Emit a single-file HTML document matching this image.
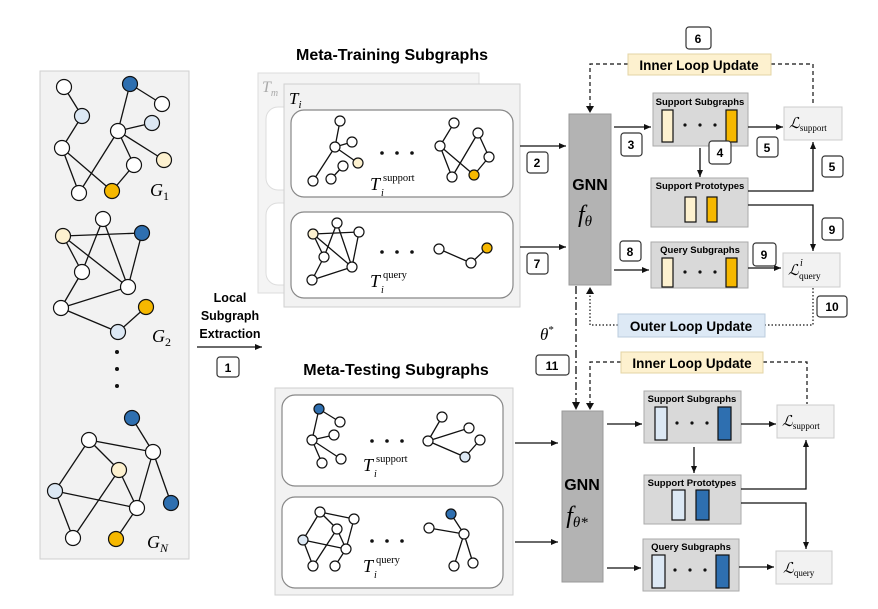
<!DOCTYPE html>
<html><head><meta charset="utf-8"><style>
body{margin:0;background:#fff}
svg{display:block}
text{font-family:"Liberation Sans",sans-serif}
.m{font-family:"Liberation Serif",serif;font-style:italic}
.r{font-family:"Liberation Serif",serif}
.b{font-weight:bold}
.e line{stroke:#111;stroke-width:1.3}
.n{stroke:#111;stroke-width:1.2}
.lb{font-weight:bold;font-size:12px}
</style></head><body>
<svg width="878" height="609" viewBox="0 0 878 609" xmlns="http://www.w3.org/2000/svg">
<defs>
<marker id="ar" markerWidth="8" markerHeight="8" refX="7" refY="4" orient="auto" markerUnits="userSpaceOnUse"><path d="M0,1 L7,4 L0,7z" fill="#111"/></marker>
</defs>

<!-- left panel -->
<rect x="40" y="71" width="149" height="488" fill="#f2f2f2" stroke="#cfcfcf"/>
<g class="e">
<line x1="64" y1="87" x2="82" y2="116"/><line x1="82" y1="116" x2="62" y2="148"/><line x1="62" y1="148" x2="79" y2="193"/><line x1="62" y1="148" x2="112" y2="191"/>
<line x1="130" y1="84" x2="118" y2="131"/><line x1="130" y1="84" x2="162" y2="104"/><line x1="118" y1="131" x2="152" y2="123"/><line x1="118" y1="131" x2="79" y2="193"/><line x1="118" y1="131" x2="134" y2="165"/><line x1="118" y1="131" x2="164" y2="160"/><line x1="134" y1="165" x2="112" y2="191"/>
<line x1="63" y1="236" x2="142" y2="233"/><line x1="63" y1="236" x2="82" y2="272"/><line x1="63" y1="236" x2="128" y2="287"/><line x1="103" y1="219" x2="82" y2="272"/><line x1="103" y1="219" x2="128" y2="287"/><line x1="142" y1="233" x2="128" y2="287"/><line x1="82" y1="272" x2="61" y2="308"/><line x1="61" y1="308" x2="128" y2="287"/><line x1="61" y1="308" x2="118" y2="332"/><line x1="118" y1="332" x2="146" y2="307"/>
<line x1="132" y1="418" x2="153" y2="452"/><line x1="89" y1="440" x2="153" y2="452"/><line x1="89" y1="440" x2="55" y2="491"/><line x1="89" y1="440" x2="119" y2="470"/><line x1="119" y1="470" x2="137" y2="508"/><line x1="119" y1="470" x2="73" y2="538"/><line x1="55" y1="491" x2="137" y2="508"/><line x1="55" y1="491" x2="73" y2="538"/><line x1="153" y1="452" x2="137" y2="508"/><line x1="153" y1="452" x2="171" y2="503"/><line x1="137" y1="508" x2="116" y2="539"/>
</g>
<g class="n">
<circle cx="64" cy="87" r="7.5" fill="#fff"/><circle cx="130" cy="84" r="7.5" fill="#2e6fb0"/><circle cx="162" cy="104" r="7.5" fill="#fff"/><circle cx="82" cy="116" r="7.5" fill="#dce8f4"/><circle cx="118" cy="131" r="7.5" fill="#fff"/><circle cx="152" cy="123" r="7.5" fill="#dce8f4"/><circle cx="62" cy="148" r="7.5" fill="#fff"/><circle cx="134" cy="165" r="7.5" fill="#fff"/><circle cx="164" cy="160" r="7.5" fill="#fdf1cf"/><circle cx="79" cy="193" r="7.5" fill="#fff"/><circle cx="112" cy="191" r="7.5" fill="#f6b800"/>
<circle cx="103" cy="219" r="7.5" fill="#fff"/><circle cx="63" cy="236" r="7.5" fill="#fdf1cf"/><circle cx="142" cy="233" r="7.5" fill="#2e6fb0"/><circle cx="82" cy="272" r="7.5" fill="#fff"/><circle cx="128" cy="287" r="7.5" fill="#fff"/><circle cx="61" cy="308" r="7.5" fill="#fff"/><circle cx="146" cy="307" r="7.5" fill="#f6b800"/><circle cx="118" cy="332" r="7.5" fill="#dce8f4"/>
<circle cx="132" cy="418" r="7.5" fill="#2e6fb0"/><circle cx="89" cy="440" r="7.5" fill="#fff"/><circle cx="153" cy="452" r="7.5" fill="#fff"/><circle cx="119" cy="470" r="7.5" fill="#fdf1cf"/><circle cx="55" cy="491" r="7.5" fill="#dce8f4"/><circle cx="137" cy="508" r="7.5" fill="#fff"/><circle cx="171" cy="503" r="7.5" fill="#2e6fb0"/><circle cx="73" cy="538" r="7.5" fill="#fff"/><circle cx="116" cy="539" r="7.5" fill="#f6b800"/>
</g>
<circle cx="117" cy="352" r="2" fill="#111"/><circle cx="117" cy="369" r="2" fill="#111"/><circle cx="117" cy="386" r="2" fill="#111"/>
<text x="150" y="196" class="m" font-size="18">G<tspan font-size="12" dy="4" font-style="normal">1</tspan></text>
<text x="152" y="342" class="m" font-size="18">G<tspan font-size="12" dy="4" font-style="normal">2</tspan></text>
<text x="147" y="548" class="m" font-size="18">G<tspan font-size="12" dy="4">N</tspan></text>

<!-- local subgraph extraction -->
<g class="b" font-size="12.5" text-anchor="middle"><text x="230" y="302">Local</text><text x="230" y="320">Subgraph</text><text x="230" y="338">Extraction</text></g>
<line x1="197" y1="347" x2="262" y2="347" stroke="#111" stroke-width="1.3" marker-end="url(#ar)"/>

<!-- meta-training -->
<text x="392" y="60" class="b" font-size="16" text-anchor="middle">Meta-Training Subgraphs</text>
<rect x="258" y="73" width="221" height="220" fill="#f4f4f4" stroke="#ddd"/>
<rect x="266" y="107" width="40" height="83" rx="12" fill="#fff" stroke="#ddd"/>
<rect x="266" y="203" width="40" height="82" rx="12" fill="#fff" stroke="#ddd"/>
<text x="262" y="92" class="m" font-size="16" fill="#aaa">T<tspan font-size="10" dy="4">m</tspan></text>
<rect x="284" y="84" width="236" height="223" fill="#f2f2f2" stroke="#cfcfcf"/>
<text x="289" y="104" class="m" font-size="17">T<tspan font-size="11" dy="4">i</tspan></text>
<rect x="291" y="110" width="222" height="87" rx="13" fill="#fff" stroke="#888" stroke-width="1.2"/>
<rect x="291" y="212" width="222" height="86" rx="13" fill="#fff" stroke="#888" stroke-width="1.2"/>
<g class="e">
<line x1="340" y1="121" x2="335" y2="147"/><line x1="335" y1="147" x2="352" y2="142"/><line x1="335" y1="147" x2="313" y2="181"/><line x1="335" y1="147" x2="358" y2="163"/><line x1="343" y1="166" x2="331" y2="179"/>
<line x1="454" y1="123" x2="440" y2="146"/><line x1="440" y1="146" x2="452" y2="177"/><line x1="440" y1="146" x2="474" y2="175"/><line x1="452" y1="177" x2="478" y2="133"/><line x1="478" y1="133" x2="489" y2="157"/><line x1="489" y1="157" x2="474" y2="175"/>
<line x1="313" y1="234" x2="359" y2="232"/><line x1="313" y1="234" x2="324" y2="257"/><line x1="313" y1="234" x2="352" y2="267"/><line x1="337" y1="223" x2="324" y2="257"/><line x1="337" y1="223" x2="352" y2="267"/><line x1="359" y1="232" x2="352" y2="267"/><line x1="324" y1="257" x2="312" y2="280"/><line x1="312" y1="280" x2="352" y2="267"/>
<line x1="439" y1="249" x2="471" y2="263"/><line x1="471" y1="263" x2="487" y2="248"/>
</g>
<g class="n" stroke-width="1.1">
<circle cx="340" cy="121" r="5" fill="#fff"/><circle cx="335" cy="147" r="5" fill="#fff"/><circle cx="352" cy="142" r="5" fill="#fff"/><circle cx="343" cy="166" r="5" fill="#fff"/><circle cx="358" cy="163" r="5" fill="#fdf1cf"/><circle cx="313" cy="181" r="5" fill="#fff"/><circle cx="331" cy="179" r="5" fill="#fff"/>
<circle cx="454" cy="123" r="5" fill="#fff"/><circle cx="440" cy="146" r="5" fill="#fff"/><circle cx="478" cy="133" r="5" fill="#fff"/><circle cx="489" cy="157" r="5" fill="#fff"/><circle cx="452" cy="177" r="5" fill="#fff"/><circle cx="474" cy="175" r="5" fill="#f6b800"/>
<circle cx="337" cy="223" r="5" fill="#fff"/><circle cx="313" cy="234" r="5" fill="#fdf1cf"/><circle cx="359" cy="232" r="5" fill="#fff"/><circle cx="324" cy="257" r="5" fill="#fff"/><circle cx="352" cy="267" r="5" fill="#fff"/><circle cx="312" cy="280" r="5" fill="#fff"/>
<circle cx="439" cy="249" r="5" fill="#fff"/><circle cx="471" cy="263" r="5" fill="#fff"/><circle cx="487" cy="248" r="5" fill="#f6b800"/>
</g>
<g fill="#111"><circle cx="382" cy="153" r="1.8"/><circle cx="397" cy="153" r="1.8"/><circle cx="412" cy="153" r="1.8"/><circle cx="382" cy="252" r="1.8"/><circle cx="397" cy="252" r="1.8"/><circle cx="412" cy="252" r="1.8"/></g>
<text x="370" y="190" class="m" font-size="18">T</text><text x="383" y="181" class="r" font-size="10.5">support</text><text x="381" y="196" class="m" font-size="10">i</text>
<text x="370" y="287" class="m" font-size="18">T</text><text x="383" y="278" class="r" font-size="10.5">query</text><text x="381" y="293" class="m" font-size="10">i</text>

<!-- arrows to GNN train -->
<line x1="520" y1="146" x2="566" y2="146" stroke="#111" stroke-width="1.3" marker-end="url(#ar)"/>
<line x1="520" y1="247" x2="566" y2="247" stroke="#111" stroke-width="1.3" marker-end="url(#ar)"/>

<!-- GNN train -->
<rect x="569" y="114" width="42" height="171" fill="#b3b3b3" stroke="#999"/>
<text x="590" y="190" class="b" font-size="16" text-anchor="middle">GNN</text>
<text x="585" y="222" class="m" font-size="24" text-anchor="middle">f<tspan font-size="15" dy="4">θ</tspan></text>

<!-- inner loop train -->
<g fill="none" stroke="#111" stroke-width="1.2" stroke-dasharray="4,3">
<polyline points="628,64 590,64 590,108"/>
<polyline points="771,64 813,64 813,106"/>
</g>
<path d="M586,106 L590,113 L594,106z" fill="#111"/>
<rect x="628" y="54" width="143" height="21" fill="#fdf1cf" stroke="#e3d4a4"/>
<text x="699" y="70" class="b" font-size="13.5" text-anchor="middle">Inner Loop Update</text>

<!-- SS train -->
<rect x="653" y="93" width="95" height="53" fill="#d9d9d9" stroke="#aaa"/>
<text x="700" y="105" class="b" font-size="9.5" text-anchor="middle">Support Subgraphs</text>
<rect x="662" y="110" width="11" height="32" fill="#fdf1cf" stroke="#111" stroke-width="1.2"/>
<rect x="726" y="110" width="11" height="32" fill="#f6b800" stroke="#111" stroke-width="1.2"/>
<g fill="#111"><circle cx="685" cy="125" r="1.6"/><circle cx="700" cy="125" r="1.6"/><circle cx="715" cy="125" r="1.6"/></g>
<line x1="614" y1="127" x2="651" y2="127" stroke="#111" stroke-width="1.3" marker-end="url(#ar)"/>
<line x1="748" y1="127" x2="783" y2="127" stroke="#111" stroke-width="1.3" marker-end="url(#ar)"/>
<rect x="784" y="107" width="58" height="33" fill="#f2f2f2" stroke="#ccc"/>
<text x="789" y="128" class="m" font-size="15">ℒ<tspan font-size="9" font-style="normal" dy="3">support</tspan></text>
<line x1="700" y1="148" x2="700" y2="177" stroke="#111" stroke-width="1.3" marker-end="url(#ar)"/>

<!-- SP train -->
<rect x="651" y="178" width="97" height="49" fill="#d9d9d9" stroke="#aaa"/>
<text x="700" y="189" class="b" font-size="9.5" text-anchor="middle">Support Prototypes</text>
<rect x="685" y="197" width="11" height="25" fill="#fdf1cf" stroke="#111" stroke-width="1.2"/>
<rect x="707" y="197" width="10" height="25" fill="#f6b800" stroke="#111" stroke-width="1.2"/>
<polyline points="748,191 813,191 813,142" fill="none" stroke="#111" stroke-width="1.3" marker-end="url(#ar)"/>
<polyline points="748,205 813,205 813,251" fill="none" stroke="#111" stroke-width="1.3" marker-end="url(#ar)"/>

<!-- QS train -->
<rect x="651" y="242" width="97" height="46" fill="#d9d9d9" stroke="#aaa"/>
<text x="700" y="253" class="b" font-size="9.5" text-anchor="middle">Query Subgraphs</text>
<rect x="662" y="258" width="11" height="29" fill="#fdf1cf" stroke="#111" stroke-width="1.2"/>
<rect x="726" y="258" width="11" height="29" fill="#f6b800" stroke="#111" stroke-width="1.2"/>
<g fill="#111"><circle cx="685" cy="272" r="1.6"/><circle cx="700" cy="272" r="1.6"/><circle cx="715" cy="272" r="1.6"/></g>
<line x1="614" y1="270" x2="649" y2="270" stroke="#111" stroke-width="1.3" marker-end="url(#ar)"/>
<line x1="748" y1="268" x2="781" y2="268" stroke="#111" stroke-width="1.3" marker-end="url(#ar)"/>
<rect x="783" y="253" width="57" height="34" fill="#f2f2f2" stroke="#ccc"/>
<text x="788" y="275" class="m" font-size="15">ℒ</text><text x="799" y="279" class="r" font-size="9.5">query</text><text x="800" y="266" class="m" font-size="10">i</text>

<!-- outer loop -->
<g fill="none" stroke="#111" stroke-width="1.2" stroke-dasharray="1.5,2">
<polyline points="813,288 813,325 765,325"/>
<polyline points="618,325 590,325 590,293"/>
</g>
<path d="M586,294 L590,287 L594,294z" fill="#111"/>
<rect x="618" y="314" width="147" height="23" fill="#dde9f5" stroke="#bcd"/>
<text x="691" y="331" class="b" font-size="13.5" text-anchor="middle">Outer Loop Update</text>

<!-- theta* -->
<line x1="576" y1="286" x2="576" y2="402" stroke="#111" stroke-width="1.3" stroke-dasharray="8,3,2,3"/>
<path d="M572,402 L576,410 L580,402z" fill="#111"/>
<text x="540" y="340" class="m" font-size="17">θ<tspan font-size="11" dy="-7" font-style="normal">*</tspan></text>

<!-- meta-testing -->
<text x="396" y="375" class="b" font-size="16" text-anchor="middle">Meta-Testing Subgraphs</text>
<rect x="275" y="388" width="238" height="207" fill="#f2f2f2" stroke="#cfcfcf"/>
<rect x="282" y="395" width="221" height="91" rx="13" fill="#fff" stroke="#888" stroke-width="1.2"/>
<rect x="282" y="497" width="221" height="91" rx="13" fill="#fff" stroke="#888" stroke-width="1.2"/>
<g class="e">
<line x1="319" y1="409" x2="340" y2="422"/><line x1="319" y1="409" x2="312" y2="440"/><line x1="312" y1="440" x2="334" y2="435"/><line x1="312" y1="440" x2="322" y2="463"/><line x1="312" y1="440" x2="341" y2="459"/>
<line x1="428" y1="441" x2="442" y2="417"/><line x1="428" y1="441" x2="469" y2="428"/><line x1="428" y1="441" x2="465" y2="457"/><line x1="465" y1="457" x2="480" y2="440"/>
<line x1="320" y1="512" x2="354" y2="519"/><line x1="320" y1="512" x2="303" y2="540"/><line x1="320" y1="512" x2="337" y2="529"/><line x1="354" y1="519" x2="346" y2="549"/><line x1="303" y1="540" x2="346" y2="549"/><line x1="303" y1="540" x2="313" y2="566"/><line x1="337" y1="529" x2="313" y2="566"/><line x1="337" y1="529" x2="346" y2="549"/><line x1="346" y1="549" x2="335" y2="566"/>
<line x1="451" y1="514" x2="464" y2="534"/><line x1="429" y1="528" x2="464" y2="534"/><line x1="464" y1="534" x2="454" y2="566"/><line x1="464" y1="534" x2="473" y2="563"/>
</g>
<g class="n" stroke-width="1.1">
<circle cx="319" cy="409" r="5" fill="#2e6fb0"/><circle cx="340" cy="422" r="5" fill="#fff"/><circle cx="334" cy="435" r="5" fill="#fff"/><circle cx="312" cy="440" r="5" fill="#fff"/><circle cx="322" cy="463" r="5" fill="#fff"/><circle cx="341" cy="459" r="5" fill="#fff"/>
<circle cx="442" cy="417" r="5" fill="#fff"/><circle cx="469" cy="428" r="5" fill="#fff"/><circle cx="480" cy="440" r="5" fill="#fff"/><circle cx="428" cy="441" r="5" fill="#fff"/><circle cx="465" cy="457" r="5" fill="#dce8f4"/>
<circle cx="320" cy="512" r="5" fill="#fff"/><circle cx="354" cy="519" r="5" fill="#fff"/><circle cx="303" cy="540" r="5" fill="#dce8f4"/><circle cx="337" cy="529" r="5" fill="#fff"/><circle cx="346" cy="549" r="5" fill="#fff"/><circle cx="313" cy="566" r="5" fill="#fff"/><circle cx="335" cy="566" r="5" fill="#fff"/>
<circle cx="451" cy="514" r="5" fill="#2e6fb0"/><circle cx="429" cy="528" r="5" fill="#fff"/><circle cx="464" cy="534" r="5" fill="#fff"/><circle cx="454" cy="566" r="5" fill="#fff"/><circle cx="473" cy="563" r="5" fill="#fff"/>
</g>
<g fill="#111"><circle cx="372" cy="441" r="1.8"/><circle cx="387" cy="441" r="1.8"/><circle cx="402" cy="441" r="1.8"/><circle cx="372" cy="541" r="1.8"/><circle cx="387" cy="541" r="1.8"/><circle cx="402" cy="541" r="1.8"/></g>
<text x="363" y="471" class="m" font-size="18">T</text><text x="376" y="462" class="r" font-size="10.5">support</text><text x="374" y="477" class="m" font-size="10">i</text>
<text x="363" y="572" class="m" font-size="18">T</text><text x="376" y="563" class="r" font-size="10.5">query</text><text x="374" y="578" class="m" font-size="10">i</text>

<line x1="515" y1="443" x2="558" y2="443" stroke="#111" stroke-width="1.3" marker-end="url(#ar)"/>
<line x1="515" y1="542" x2="558" y2="542" stroke="#111" stroke-width="1.3" marker-end="url(#ar)"/>

<!-- GNN test -->
<rect x="562" y="411" width="41" height="171" fill="#b3b3b3" stroke="#999"/>
<text x="582" y="490" class="b" font-size="16" text-anchor="middle">GNN</text>
<text x="577" y="523" class="m" font-size="24" text-anchor="middle">f<tspan font-size="15" dy="4">θ*</tspan></text>

<g fill="none" stroke="#111" stroke-width="1.2" stroke-dasharray="4,3">
<polyline points="621,362 590,362 590,404"/>
<polyline points="763,362 807,362 807,404"/>
</g>
<path d="M586,403 L590,410 L594,403z" fill="#111"/>
<rect x="621" y="352" width="142" height="21" fill="#fdf1cf" stroke="#e3d4a4"/>
<text x="692" y="368" class="b" font-size="13.5" text-anchor="middle">Inner Loop Update</text>

<rect x="644" y="391" width="97" height="52" fill="#d9d9d9" stroke="#aaa"/>
<text x="692" y="402" class="b" font-size="9.5" text-anchor="middle">Support Subgraphs</text>
<rect x="655" y="407" width="12" height="33" fill="#dce8f4" stroke="#111" stroke-width="1.2"/>
<rect x="718" y="407" width="13" height="33" fill="#2e6fb0" stroke="#111" stroke-width="1.2"/>
<g fill="#111"><circle cx="677" cy="423" r="1.6"/><circle cx="692" cy="423" r="1.6"/><circle cx="707" cy="423" r="1.6"/></g>
<line x1="607" y1="424" x2="642" y2="424" stroke="#111" stroke-width="1.3" marker-end="url(#ar)"/>
<line x1="741" y1="424" x2="776" y2="424" stroke="#111" stroke-width="1.3" marker-end="url(#ar)"/>
<rect x="777" y="405" width="57" height="33" fill="#f2f2f2" stroke="#ccc"/>
<text x="782" y="426" class="m" font-size="15">ℒ<tspan font-size="9" font-style="normal" dy="3">support</tspan></text>
<line x1="694" y1="447" x2="694" y2="473" stroke="#111" stroke-width="1.3" marker-end="url(#ar)"/>

<rect x="644" y="475" width="97" height="49" fill="#d9d9d9" stroke="#aaa"/>
<text x="692" y="486" class="b" font-size="9.5" text-anchor="middle">Support Prototypes</text>
<rect x="672" y="490" width="13" height="30" fill="#dce8f4" stroke="#111" stroke-width="1.2"/>
<rect x="696" y="490" width="13" height="30" fill="#2e6fb0" stroke="#111" stroke-width="1.2"/>
<polyline points="741,489 806,489 806,440" fill="none" stroke="#111" stroke-width="1.3" marker-end="url(#ar)"/>
<polyline points="741,503 806,503 806,549" fill="none" stroke="#111" stroke-width="1.3" marker-end="url(#ar)"/>

<rect x="643" y="539" width="96" height="52" fill="#d9d9d9" stroke="#aaa"/>
<text x="691" y="550" class="b" font-size="9.5" text-anchor="middle">Query Subgraphs</text>
<rect x="652" y="555" width="13" height="33" fill="#dce8f4" stroke="#111" stroke-width="1.2"/>
<rect x="716" y="555" width="13" height="33" fill="#2e6fb0" stroke="#111" stroke-width="1.2"/>
<g fill="#111"><circle cx="675" cy="570" r="1.6"/><circle cx="690" cy="570" r="1.6"/><circle cx="705" cy="570" r="1.6"/></g>
<line x1="607" y1="568" x2="641" y2="568" stroke="#111" stroke-width="1.3" marker-end="url(#ar)"/>
<line x1="739" y1="567" x2="774" y2="567" stroke="#111" stroke-width="1.3" marker-end="url(#ar)"/>
<rect x="776" y="551" width="56" height="33" fill="#f2f2f2" stroke="#ccc"/>
<text x="783" y="573" class="m" font-size="15">ℒ<tspan font-size="9" font-style="normal" dy="3">query</tspan></text>

<!-- number labels -->
<g fill="#fff" stroke="#333" stroke-width="1.2">
<rect x="217" y="357" width="22" height="20" rx="3"/>
<rect x="527" y="152" width="21" height="21" rx="3"/>
<rect x="527" y="253" width="21" height="21" rx="3"/>
<rect x="621" y="133" width="21" height="23" rx="3"/>
<rect x="709" y="141" width="22" height="23" rx="3"/>
<rect x="757" y="137" width="21" height="20" rx="3"/>
<rect x="822" y="156" width="21" height="21" rx="3"/>
<rect x="686" y="27" width="25" height="22" rx="3"/>
<rect x="620" y="241" width="21" height="20" rx="3"/>
<rect x="753" y="243" width="23" height="23" rx="3"/>
<rect x="822" y="218" width="21" height="22" rx="3"/>
<rect x="817" y="296" width="30" height="21" rx="3"/>
<rect x="536" y="355" width="33" height="20" rx="3"/>
</g>
<g class="lb" text-anchor="middle">
<text x="228" y="372">1</text><text x="537" y="167">2</text><text x="537" y="268">7</text><text x="631" y="149">3</text><text x="720" y="157">4</text><text x="767" y="152">5</text><text x="832" y="171">5</text><text x="698" y="43">6</text><text x="630" y="256">8</text><text x="764" y="259">9</text><text x="832" y="234">9</text><text x="832" y="311">10</text><text x="552" y="370">11</text>
</g>
</svg>
</body></html>
